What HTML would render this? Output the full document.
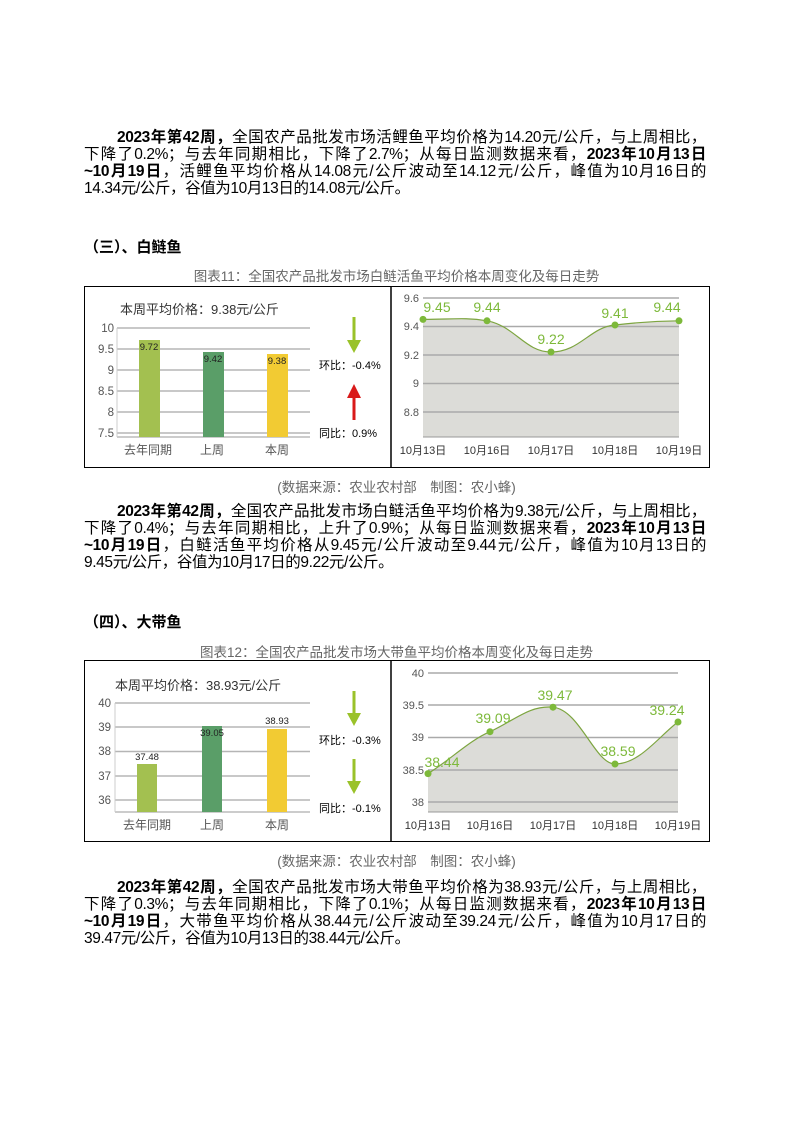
<!DOCTYPE html><html><head><meta charset="utf-8"><style>
body{margin:0;width:793px;height:1122px;background:#fff;position:relative;overflow:hidden;font-family:"Liberation Sans","Noto Sans CJK SC",sans-serif;color:#000}
.l{position:absolute;left:84px;width:622px;font-size:15.5px;line-height:17px;white-space:nowrap;text-align:justify;text-align-last:justify;letter-spacing:-0.4px}
.l.last{text-align-last:left}
.h{position:absolute;left:84px;font-size:15px;font-weight:bold}
.c{position:absolute;left:84px;width:625px;text-align:center;font-size:13.5px;color:#666}
b{font-weight:bold}
</style></head><body>
<div class="l" style="top:129px;text-indent:33px"><b>2023年第42周，</b>全国农产品批发市场活鲤鱼平均价格为14.20元/公斤，与上周相比，</div>
<div class="l" style="top:146px">下降了0.2%；与去年同期相比，下降了2.7%；从每日监测数据来看，<b>2023年10月13日</b></div>
<div class="l" style="top:163px"><b>~10月19日</b>，活鲤鱼平均价格从14.08元/公斤波动至14.12元/公斤，峰值为10月16日的</div>
<div class="l last" style="top:180px">14.34元/公斤，谷值为10月13日的14.08元/公斤。</div>
<div class="h" style="top:236px">（三）、白鲢鱼</div>
<div class="c" style="top:265px">图表11：全国农产品批发市场白鲢活鱼平均价格本周变化及每日走势</div>
<svg style="position:absolute;left:0;top:0" width="793" height="1122" font-family="Liberation Sans,Noto Sans CJK SC,sans-serif">
<g>
<rect x="84.5" y="286.5" width="625" height="181" fill="none" stroke="#000"/>
<line x1="391" y1="286" x2="391" y2="467" stroke="#000" stroke-width="1.5"/>
<text x="120" y="314" font-size="13" fill="#333">本周平均价格：9.38元/公斤</text>
<g stroke="#b5b5b5" stroke-width="1.5"><line x1="117" y1="328" x2="310" y2="328"/><line x1="117" y1="349" x2="310" y2="349"/><line x1="117" y1="370" x2="310" y2="370"/><line x1="117" y1="391" x2="310" y2="391"/><line x1="117" y1="412" x2="310" y2="412"/><line x1="117" y1="433" x2="310" y2="433"/></g>
<line x1="117" y1="437" x2="310" y2="437" stroke="#999"/><line x1="117" y1="328" x2="117" y2="437" stroke="#ccc"/>
<g font-size="11.5" fill="#555" text-anchor="end"><text x="114" y="332">10</text><text x="114" y="353">9.5</text><text x="114" y="374">9</text><text x="114" y="395">8.5</text><text x="114" y="416">8</text><text x="114" y="437">7.5</text></g>
<rect x="139" y="340" width="21" height="97" fill="#a3c050"/><rect x="203" y="352" width="21" height="85" fill="#5a9e68"/><rect x="267" y="354" width="21" height="83" fill="#f2cb33"/>
<g font-size="9.5" text-anchor="middle" fill="#222"><text x="149" y="350">9.72</text><text x="213" y="362">9.42</text><text x="277" y="364">9.38</text></g>
<g font-size="12" fill="#555" text-anchor="middle"><text x="148" y="454">去年同期</text><text x="212" y="454">上周</text><text x="277" y="454">本周</text></g>
<line x1="354" y1="317" x2="354" y2="344" stroke="#9ac22a" stroke-width="3"/><polygon points="347,340 361,340 354,353" fill="#9ac22a"/>
<line x1="354" y1="395" x2="354" y2="420" stroke="#d91a1a" stroke-width="3"/><polygon points="347,398 361,398 354,384" fill="#d91a1a"/>
<text x="319" y="369" font-size="11" fill="#000">环比：-0.4%</text><text x="319" y="437" font-size="11" fill="#000">同比：0.9%</text>
<path d="M423,319.4 C450,319.5 465,317 487,320.8 C515,326 525,352 551,352 C580,352 590,327 615,325 C640,322 660,321 679,320.8 L679,437 L423,437 Z" fill="#dcdcd8"/>
<g stroke="#aaa" stroke-width="1.5"><line x1="423" y1="298" x2="679" y2="298"/><line x1="423" y1="326.5" x2="679" y2="326.5"/><line x1="423" y1="355" x2="679" y2="355"/><line x1="423" y1="383.5" x2="679" y2="383.5"/><line x1="423" y1="412" x2="679" y2="412"/></g>
<line x1="423" y1="437" x2="679" y2="437" stroke="#999"/>
<path d="M423,319.4 C450,319.5 465,317 487,320.8 C515,326 525,352 551,352 C580,352 590,327 615,325 C640,322 660,321 679,320.8" fill="none" stroke="#7da540" stroke-width="1.2"/>
<g fill="#7db93a"><circle cx="423" cy="319.4" r="3.5"/><circle cx="487" cy="320.8" r="3.5"/><circle cx="551" cy="352" r="3.5"/><circle cx="615" cy="325" r="3.5"/><circle cx="679" cy="320.8" r="3.5"/></g>
<g font-size="14" fill="#7db93a" text-anchor="middle"><text x="437" y="312">9.45</text><text x="487" y="312">9.44</text><text x="551" y="344">9.22</text><text x="615" y="318">9.41</text><text x="667" y="312">9.44</text></g>
<g font-size="11" fill="#555" text-anchor="end"><text x="419" y="302">9.6</text><text x="419" y="330">9.4</text><text x="419" y="359">9.2</text><text x="419" y="387">9</text><text x="419" y="416">8.8</text></g>
<g font-size="11" fill="#333" text-anchor="middle"><text x="423" y="454">10月13日</text><text x="487" y="454">10月16日</text><text x="551" y="454">10月17日</text><text x="615" y="454">10月18日</text><text x="679" y="454">10月19日</text></g>
</g>
<g>
<rect x="84.5" y="660.5" width="625" height="181" fill="none" stroke="#000"/>
<line x1="391" y1="660" x2="391" y2="842" stroke="#000" stroke-width="1.5"/>
<text x="115" y="690" font-size="13" fill="#333">本周平均价格：38.93元/公斤</text>
<g stroke="#b5b5b5" stroke-width="1.5"><line x1="115" y1="703" x2="310" y2="703"/><line x1="115" y1="727" x2="310" y2="727"/><line x1="115" y1="751.5" x2="310" y2="751.5"/><line x1="115" y1="776" x2="310" y2="776"/><line x1="115" y1="800" x2="310" y2="800"/></g>
<line x1="115" y1="812" x2="310" y2="812" stroke="#999"/><line x1="115" y1="703" x2="115" y2="812" stroke="#ccc"/>
<g font-size="11.5" fill="#555" text-anchor="end"><text x="111" y="707">40</text><text x="111" y="731">39</text><text x="111" y="755">38</text><text x="111" y="780">37</text><text x="111" y="804">36</text></g>
<rect x="137" y="764" width="20" height="48" fill="#a3c050"/><rect x="202" y="726" width="20" height="86" fill="#5a9e68"/><rect x="267" y="729" width="20" height="83" fill="#f2cb33"/>
<g font-size="9.5" text-anchor="middle" fill="#222"><text x="147" y="760">37.48</text><text x="212" y="736">39.05</text><text x="277" y="724">38.93</text></g>
<g font-size="12" fill="#555" text-anchor="middle"><text x="147" y="829">去年同期</text><text x="212" y="829">上周</text><text x="277" y="829">本周</text></g>
<line x1="354" y1="691" x2="354" y2="717" stroke="#9ac22a" stroke-width="3"/><polygon points="347,713 361,713 354,726" fill="#9ac22a"/>
<line x1="354" y1="759" x2="354" y2="785" stroke="#9ac22a" stroke-width="3"/><polygon points="347,781 361,781 354,794" fill="#9ac22a"/>
<text x="319" y="744" font-size="11" fill="#000">环比：-0.3%</text><text x="319" y="812" font-size="11" fill="#000">同比：-0.1%</text>
<path d="M428,773.6 C450,760 470,740 490,731.7 C515,720 530,705 553,707.2 C580,710 595,764 615,764 C640,764 660,735 678,722 L678,812 L428,812 Z" fill="#dcdcd8"/>
<g stroke="#aaa" stroke-width="1.5"><line x1="428" y1="673" x2="678" y2="673"/><line x1="428" y1="705" x2="678" y2="705"/><line x1="428" y1="737.5" x2="678" y2="737.5"/><line x1="428" y1="770" x2="678" y2="770"/><line x1="428" y1="802" x2="678" y2="802"/></g>
<line x1="428" y1="812" x2="678" y2="812" stroke="#999"/>
<path d="M428,773.6 C450,760 470,740 490,731.7 C515,720 530,705 553,707.2 C580,710 595,764 615,764 C640,764 660,735 678,722" fill="none" stroke="#7da540" stroke-width="1.2"/>
<g fill="#7db93a"><circle cx="428" cy="773.6" r="3.5"/><circle cx="490" cy="731.7" r="3.5"/><circle cx="553" cy="707.2" r="3.5"/><circle cx="615" cy="764" r="3.5"/><circle cx="678" cy="722" r="3.5"/></g>
<g font-size="14" fill="#7db93a" text-anchor="middle"><text x="442" y="767">38.44</text><text x="493" y="723">39.09</text><text x="555" y="700">39.47</text><text x="618" y="756">38.59</text><text x="667" y="715">39.24</text></g>
<g font-size="11" fill="#555" text-anchor="end"><text x="424" y="677">40</text><text x="424" y="709">39.5</text><text x="424" y="741">39</text><text x="424" y="774">38.5</text><text x="424" y="806">38</text></g>
<g font-size="11" fill="#333" text-anchor="middle"><text x="428" y="829">10月13日</text><text x="490" y="829">10月16日</text><text x="553" y="829">10月17日</text><text x="615" y="829">10月18日</text><text x="678" y="829">10月19日</text></g>
</g>
</svg>
<div class="c" style="top:476px">(数据来源：农业农村部　制图：农小蜂)</div>
<div class="l" style="top:503px;text-indent:33px"><b>2023年第42周，</b>全国农产品批发市场白鲢活鱼平均价格为9.38元/公斤，与上周相比，</div>
<div class="l" style="top:520px">下降了0.4%；与去年同期相比，上升了0.9%；从每日监测数据来看，<b>2023年10月13日</b></div>
<div class="l" style="top:537px"><b>~10月19日</b>，白鲢活鱼平均价格从9.45元/公斤波动至9.44元/公斤，峰值为10月13日的</div>
<div class="l last" style="top:554px">9.45元/公斤，谷值为10月17日的9.22元/公斤。</div>
<div class="h" style="top:611px">（四）、大带鱼</div>
<div class="c" style="top:641px">图表12：全国农产品批发市场大带鱼平均价格本周变化及每日走势</div>
<div class="c" style="top:850px">(数据来源：农业农村部　制图：农小蜂)</div>
<div class="l" style="top:879px;text-indent:33px"><b>2023年第42周，</b>全国农产品批发市场大带鱼平均价格为38.93元/公斤，与上周相比，</div>
<div class="l" style="top:896px">下降了0.3%；与去年同期相比，下降了0.1%；从每日监测数据来看，<b>2023年10月13日</b></div>
<div class="l" style="top:913px"><b>~10月19日</b>，大带鱼平均价格从38.44元/公斤波动至39.24元/公斤，峰值为10月17日的</div>
<div class="l last" style="top:930px">39.47元/公斤，谷值为10月13日的38.44元/公斤。</div>
</body></html>
